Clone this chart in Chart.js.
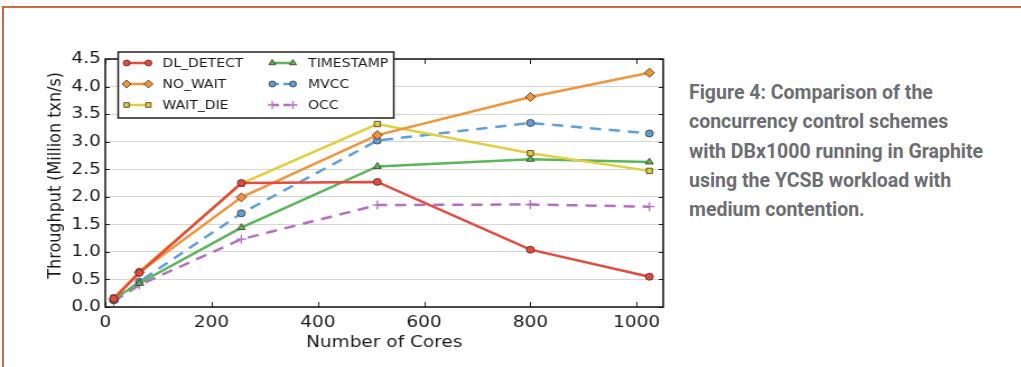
<!DOCTYPE html>
<html>
<head>
<meta charset="utf-8">
<script src="https://cdn.jsdelivr.net/npm/chart.js@4/dist/chart.umd.min.js"></script>
<style>
  html, body { margin: 0; padding: 0; background: #fff; }
  body { width: 1021px; height: 367px; position: relative; overflow: hidden; }
  #frame { position: absolute; left: 2px; top: 6px; width: 1030px; height: 400px;
           border-top: 2px solid #d2683f; border-left: 2px solid #d2683f; }
  #wrap { position: absolute; left: 0; top: 0; width: 680px; height: 367px; }
  #caption { position: absolute; left: 689px; top: 78px; width: 330px;
             font-family: Roboto, sans-serif; font-weight: 700; font-size: 19.5px;
             line-height: 29.3px; color: #6d6e71; white-space: nowrap; }
</style>
</head>
<body>
<div id="frame"></div>
<!-- the source figure is slightly stretched sideways, so the canvas is too -->
<div id="wrap"><canvas id="myChart" width="607" height="367" style="width:680px;height:367px"></canvas></div>
<div id="caption">Figure 4: Comparison of the<br>concurrency control schemes<br>with DBx1000 running in Graphite<br>using the YCSB workload with<br>medium contention.</div>
<script>
var cores = [16, 64, 256, 512, 800, 1024];
var dlDetect = [0.15, 0.62, 2.25, 2.27, 1.04, 0.55];
var noWait = [0.15, 0.63, 1.99, 3.12, 3.81, 4.25];
var waitDie = [0.17, 0.64, 2.24, 3.32, 2.79, 2.47];
var timestamp = [0.15, 0.43, 1.44, 2.55, 2.68, 2.63];
var mvcc = [0.12, 0.46, 1.70, 3.02, 3.34, 3.15];
var occ = [0.10, 0.40, 1.23, 1.85, 1.86, 1.82];
var xTicks = [0, 200, 400, 600, 800, 1000];
var yTicks = [0, 0.5, 1, 1.5, 2, 2.5, 3, 3.5, 4, 4.5];

function pts(arr) {
    return arr.map(function (v, i) { return {x: cores[i], y: v}; });
}

function series(label, arr, color, style, radius, dash) {
    var plus = style === 'cross';
    return {
        label: label,
        data: pts(arr),
        borderColor: color,
        backgroundColor: color,
        borderWidth: 2.5,
        borderDash: dash || [],
        pointStyle: style,
        pointRadius: radius,
        pointBorderColor: plus ? color : 'rgba(70,45,30,0.8)',
        pointBorderWidth: plus ? 1.3 : 1,
        pointBackgroundColor: color,
        tension: 0,
        fill: false
    };
}

// matplotlib style inward ticks on all four sides + axes box
var inTicks = {
    id: 'inTicks',
    afterDraw: function (chart) {
        var c = chart.ctx, a = chart.chartArea;
        var xs = chart.scales.x, ys = chart.scales.y;
        c.save();
        c.strokeStyle = '#222';
        c.lineWidth = 1;
        xTicks.forEach(function (t) {
            var px = Math.round(xs.getPixelForValue(t)) + 0.5;
            c.beginPath();
            c.moveTo(px, a.bottom); c.lineTo(px, a.bottom - 5);
            c.moveTo(px, a.top); c.lineTo(px, a.top + 5);
            c.stroke();
        });
        yTicks.forEach(function (t) {
            var py = Math.round(ys.getPixelForValue(t)) + 0.5;
            c.beginPath();
            c.moveTo(a.left, py); c.lineTo(a.left + 4, py);
            c.moveTo(a.right, py); c.lineTo(a.right - 4, py);
            c.stroke();
        });
        c.strokeStyle = '#111';
        c.lineWidth = 1.5;
        c.strokeRect(a.left, a.top, a.right - a.left, a.bottom - a.top);
        c.restore();
    }
};

// legend box sitting over the top of the plot, two columns of three
var boxLegend = {
    id: 'boxLegend',
    afterDraw: function (chart) {
        var c = chart.ctx;
        c.save();
        c.fillStyle = '#fff';
        c.fillRect(105.5, 52, 246, 66);
        c.strokeStyle = '#222';
        c.lineWidth = 1.5;
        c.strokeRect(105.5, 52, 246, 66);
        c.font = '12.5px "DejaVu Sans"';
        c.textBaseline = 'middle';
        chart.data.datasets.forEach(function (ds, i) {
            var col = Math.floor(i / 3), row = i % 3;
            var x0 = col === 0 ? 113 : 243, x1 = col === 0 ? 132.5 : 261.5;
            var tx = col === 0 ? 145 : 275;
            var y = 63 + row * 21;
            c.strokeStyle = ds.borderColor;
            c.lineWidth = 2.5;
            c.setLineDash(ds.borderDash.length ? [6, 4] : []);
            c.beginPath(); c.moveTo(x0, y); c.lineTo(x1, y); c.stroke();
            c.setLineDash([]);
            [x0, x1].forEach(function (px) {
                c.fillStyle = ds.pointBackgroundColor;
                c.strokeStyle = ds.pointBorderColor;
                c.lineWidth = ds.pointBorderWidth;
                Chart.helpers.drawPoint(c, {
                    pointStyle: ds.pointStyle, radius: ds.pointRadius - 0.5,
                    rotation: 0, borderWidth: ds.pointBorderWidth
                }, px, y);
            });
            c.fillStyle = '#1a1a1a';
            c.fillText(ds.label, tx, y + 1);
        });
        c.restore();
    }
};

var ctx = document.getElementById("myChart").getContext('2d');

var myChart = new Chart(ctx, {
    type: 'line',
    data: {
        datasets: [
            series('DL_DETECT', dlDetect, '#e8493e', 'circle', 3.5),
            series('NO_WAIT', noWait, '#f0953a', 'rectRot', 4.5),
            series('WAIT_DIE', waitDie, '#e0cf3e', 'rect', 3.8),
            series('TIMESTAMP', timestamp, '#5ab658', 'triangle', 4),
            series('MVCC', mvcc, '#5d9fdb', 'circle', 3.5, [10, 7]),
            series('OCC', occ, '#b56fc2', 'cross', 4.5, [10, 7])
        ]
    },
    options: {
        responsive: false,
        animation: false,
        layout: { padding: { top: 59, right: 15, left: 40, bottom: 0 } },
        plugins: { legend: { display: false }, tooltip: { enabled: false } },
        scales: {
            x: {
                type: 'linear', min: 0, max: 1050,
                afterBuildTicks: function (s) { s.ticks = xTicks.map(function (v) { return {value: v}; }); },
                afterFit: function (s) { s.height = 60; },
                grid: { display: false, drawTicks: false },
                border: { display: false },
                ticks: { color: '#1a1a1a', padding: 6, font: { family: 'DejaVu Sans', size: 16.5 },
                         callback: function (v) { return String(v); } },
                title: { display: true, text: 'Number of Cores', color: '#1a1a1a',
                         padding: { top: 0, bottom: 14 }, font: { family: 'DejaVu Sans', size: 16.5 } }
            },
            y: {
                min: 0, max: 4.5,
                afterBuildTicks: function (s) { s.ticks = yTicks.map(function (v) { return {value: v}; }); },
                afterFit: function (s) { s.width = 54; },
                grid: { color: '#d6d6d6', lineWidth: 1, drawTicks: false },
                border: { display: false },
                ticks: { color: '#1a1a1a', padding: 4, font: { family: 'DejaVu Sans', size: 16.5 },
                         callback: function (v) { return v.toFixed(1); } },
                title: { display: true, text: '   Throughput (Million txn/s)', color: '#1a1a1a',
                         padding: 0, font: { family: 'DejaVu Sans', size: 16 } }
            }
        }
    },
    plugins: [inTicks, boxLegend]
});
</script>
</body>
</html>
